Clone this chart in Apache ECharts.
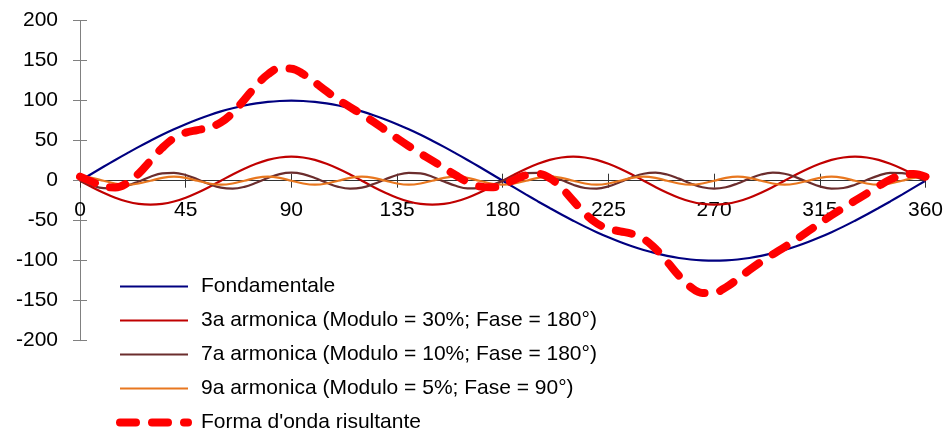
<!DOCTYPE html>
<html>
<head>
<meta charset="utf-8">
<script src="https://cdn.jsdelivr.net/npm/echarts@6/dist/echarts.min.js"></script>
<style>
html,body{margin:0;padding:0;background:#fff;}
#c{width:946px;height:433px;}
</style>
</head>
<body>
<div id="c"></div>
<script>
var angles = [0,5,10,15,20,25,30,35,40,45,50,55,60,65,70,75,80,85,90,95,100,105,110,115,120,125,130,135,140,145,150,155,160,165,170,175,180,185,190,195,200,205,210,215,220,225,230,235,240,245,250,255,260,265,270,275,280,285,290,295,300,305,310,315,320,325,330,335,340,345,350,355,360];
var xTicks = [0,45,90,135,180,225,270,315,360];
var yTicks = [-200,-150,-100,-50,0,50,100,150,200];
var seriesNames = ["Fondamentale","3a armonica (Modulo = 30%; Fase = 180°)","7a armonica (Modulo = 10%; Fase = 180°)","9a armonica (Modulo = 5%; Fase = 90°)","Forma d'onda risultante"];

var fondamentale = [0,8.7,17.4,25.9,34.2,42.3,50,57.4,64.3,70.7,76.6,81.9,86.6,90.6,94,96.6,98.5,99.6,100,99.6,98.5,96.6,94,90.6,86.6,81.9,76.6,70.7,64.3,57.4,50,42.3,34.2,25.9,17.4,8.7,0,-8.7,-17.4,-25.9,-34.2,-42.3,-50,-57.4,-64.3,-70.7,-76.6,-81.9,-86.6,-90.6,-94,-96.6,-98.5,-99.6,-100,-99.6,-98.5,-96.6,-94,-90.6,-86.6,-81.9,-76.6,-70.7,-64.3,-57.4,-50,-42.3,-34.2,-25.9,-17.4,-8.7,0];
var armonica3 = [0,-7.8,-15,-21.2,-26,-29,-30,-29,-26,-21.2,-15,-7.8,0,7.8,15,21.2,26,29,30,29,26,21.2,15,7.8,
0,-7.8,-15,-21.2,-26,-29,-30,-29,-26,-21.2,-15,-7.8,0,7.8,15,21.2,26,29,30,29,26,21.2,15,7.8,
0,-7.8,-15,-21.2,-26,-29,-30,-29,-26,-21.2,-15,-7.8,0,7.8,15,21.2,26,29,30,29,26,21.2,15,7.8,0];
var armonica7 = [0,-5.7,-9.4,-9.7,-6.4,-0.9,5,9.1,9.8,7.1,1.7,-4.2,-8.7,-10,-7.7,-2.6,3.4,8.2,10,8.2,3.4,-2.6,-7.7,-10,-8.7,-4.2,1.7,7.1,9.8,9.1,5,-0.9,-6.4,-9.7,-9.4,-5.7,0,
5.7,9.4,9.7,6.4,0.9,-5,-9.1,-9.8,-7.1,-1.7,4.2,8.7,10,7.7,2.6,-3.4,-8.2,-10,-8.2,-3.4,2.6,7.7,10,8.7,4.2,-1.7,-7.1,-9.8,-9.1,-5,0.9,6.4,9.7,9.4,5.7,0];
var armonica9 = [5,3.5,0,-3.5,-5,-3.5,0,3.5, 5,3.5,0,-3.5,-5,-3.5,0,3.5, 5,3.5,0,-3.5,-5,-3.5,0,3.5, 5,3.5,0,-3.5,-5,-3.5,0,3.5, 5,3.5,0,-3.5,-5,-3.5,0,3.5, 5,3.5,0,-3.5,-5,-3.5,0,3.5, 5,3.5,0,-3.5,-5,-3.5,0,3.5, 5,3.5,0,-3.5,-5,-3.5,0,3.5, 5,3.5,0,-3.5,-5,-3.5,0,3.5, 5];
var risultante = [5,-1.2,-7,-8.5,-3.2,8.9,25,41,53.2,60.1,63.3,66.4,72.9,84.9,101.3,118.8,132.9,140.3,140,133.3,122.9,111.7,101.3,92,82.9,73.5,63.3,53,43.2,33.9,25,16,6.8,-1.5,-7,-8.3,-5,
1.2,7,8.5,3.2,-8.9,-25,-41,-53.2,-60.1,-63.3,-66.4,-72.9,-84.9,-101.3,-118.8,-132.9,-140.3,-140,-133.3,-122.9,-111.7,-101.3,-92,-82.9,-73.5,-63.3,-53,-43.2,-33.9,-25,-16,-6.8,1.5,7,8.3,5];

function pairs(vals){ return angles.map(function(a,i){ return [a, vals[i]]; }); }

var FONT = "'Liberation Sans', Arial, sans-serif";
var GRID_TOP = 20.7, GRID_BOTTOM = 92.3, H = 433;
// x axis sits at value 0 of the y range (-200..200): middle of plot
var plotH = H - GRID_TOP - GRID_BOTTOM;
var xAxisOffset = -plotH / 2;

var chart = echarts.init(document.getElementById('c'), null, {renderer:'canvas'});
var colors = ['#000080', '#C00000', '#6B2D2D', '#E8771F', '#FF0000'];
var widths = [2.2, 2.2, 2.2, 2.2, 8];
function lineSeries(i, vals, extra){
  return {
    name: seriesNames[i], type: 'line', data: pairs(vals), symbol: 'none', smooth: 0.4,
    xAxisIndex: 0, yAxisIndex: 0,
    lineStyle: Object.assign({color: colors[i], width: widths[i]}, extra || {}),
    itemStyle: {color: colors[i]}, z: 3
  };
}
var dashStyle = {type: [16,16], cap: 'round', join: 'round'};
var legendData = seriesNames.map(function(n, i){
  var ls = Object.assign({color: colors[i], width: widths[i]}, i === 4 ? dashStyle : {type: 'solid'});
  return {name: n, lineStyle: ls, itemStyle: {opacity: 0}};
});
var option = {
  animation: false,
  backgroundColor: '#ffffff',
  textStyle: {fontFamily: FONT},
  grid: {left: 80, right: 20, top: GRID_TOP, bottom: GRID_BOTTOM},
  legend: {
    orient: 'vertical', left: 116, top: 276, padding: 0,
    itemWidth: 68, itemHeight: 21, itemGap: 13,
    itemStyle: {opacity: 0},
    textStyle: {fontFamily: FONT, fontSize: 21, color: '#000', padding: [0,0,0,8]},
    data: legendData
  },
  xAxis: [{
    type: 'value', min: 0, max: 360, interval: 45, position: 'bottom', offset: xAxisOffset,
    axisLine: {show: true, onZero: false, lineStyle: {color: '#333', width: 1}},
    axisTick: {show: true, inside: false, length: 7, lineStyle: {color: '#333'}},
    axisLabel: {show: true, margin: 19, fontSize: 21, color: '#000', fontFamily: FONT, showMinLabel: true, showMaxLabel: true,
      formatter: function(v){ return xTicks.indexOf(v) >= 0 ? String(v) : ''; }},
    splitLine: {show: false}
  },{
    type: 'value', min: 0, max: 360, interval: 45, position: 'bottom', offset: xAxisOffset,
    axisLine: {show: false, onZero: false},
    axisTick: {show: true, inside: true, length: 7, lineStyle: {color: '#333'}},
    axisLabel: {show: false}, splitLine: {show: false}
  }],
  yAxis: [{
    type: 'value', min: -200, max: 200, interval: 50, position: 'left',
    axisLine: {show: true, onZero: false, lineStyle: {color: '#808080', width: 1}},
    axisTick: {show: true, inside: false, length: 7, lineStyle: {color: '#808080'}},
    axisLabel: {show: true, margin: 22, fontSize: 21, color: '#000', fontFamily: FONT,
      formatter: function(v){ return yTicks.indexOf(v) >= 0 ? String(v) : ''; }},
    splitLine: {show: false}
  },{
    type: 'value', min: -200, max: 200, interval: 50, position: 'left',
    axisLine: {show: false, onZero: false},
    axisTick: {show: true, inside: true, length: 7, lineStyle: {color: '#808080'}},
    axisLabel: {show: false}, splitLine: {show: false}
  }],
  series: [
    lineSeries(0, fondamentale),
    lineSeries(1, armonica3),
    lineSeries(2, armonica7),
    lineSeries(3, armonica9),
    lineSeries(4, risultante, dashStyle)
  ]
};
chart.setOption(option);
</script>
</body>
</html>
